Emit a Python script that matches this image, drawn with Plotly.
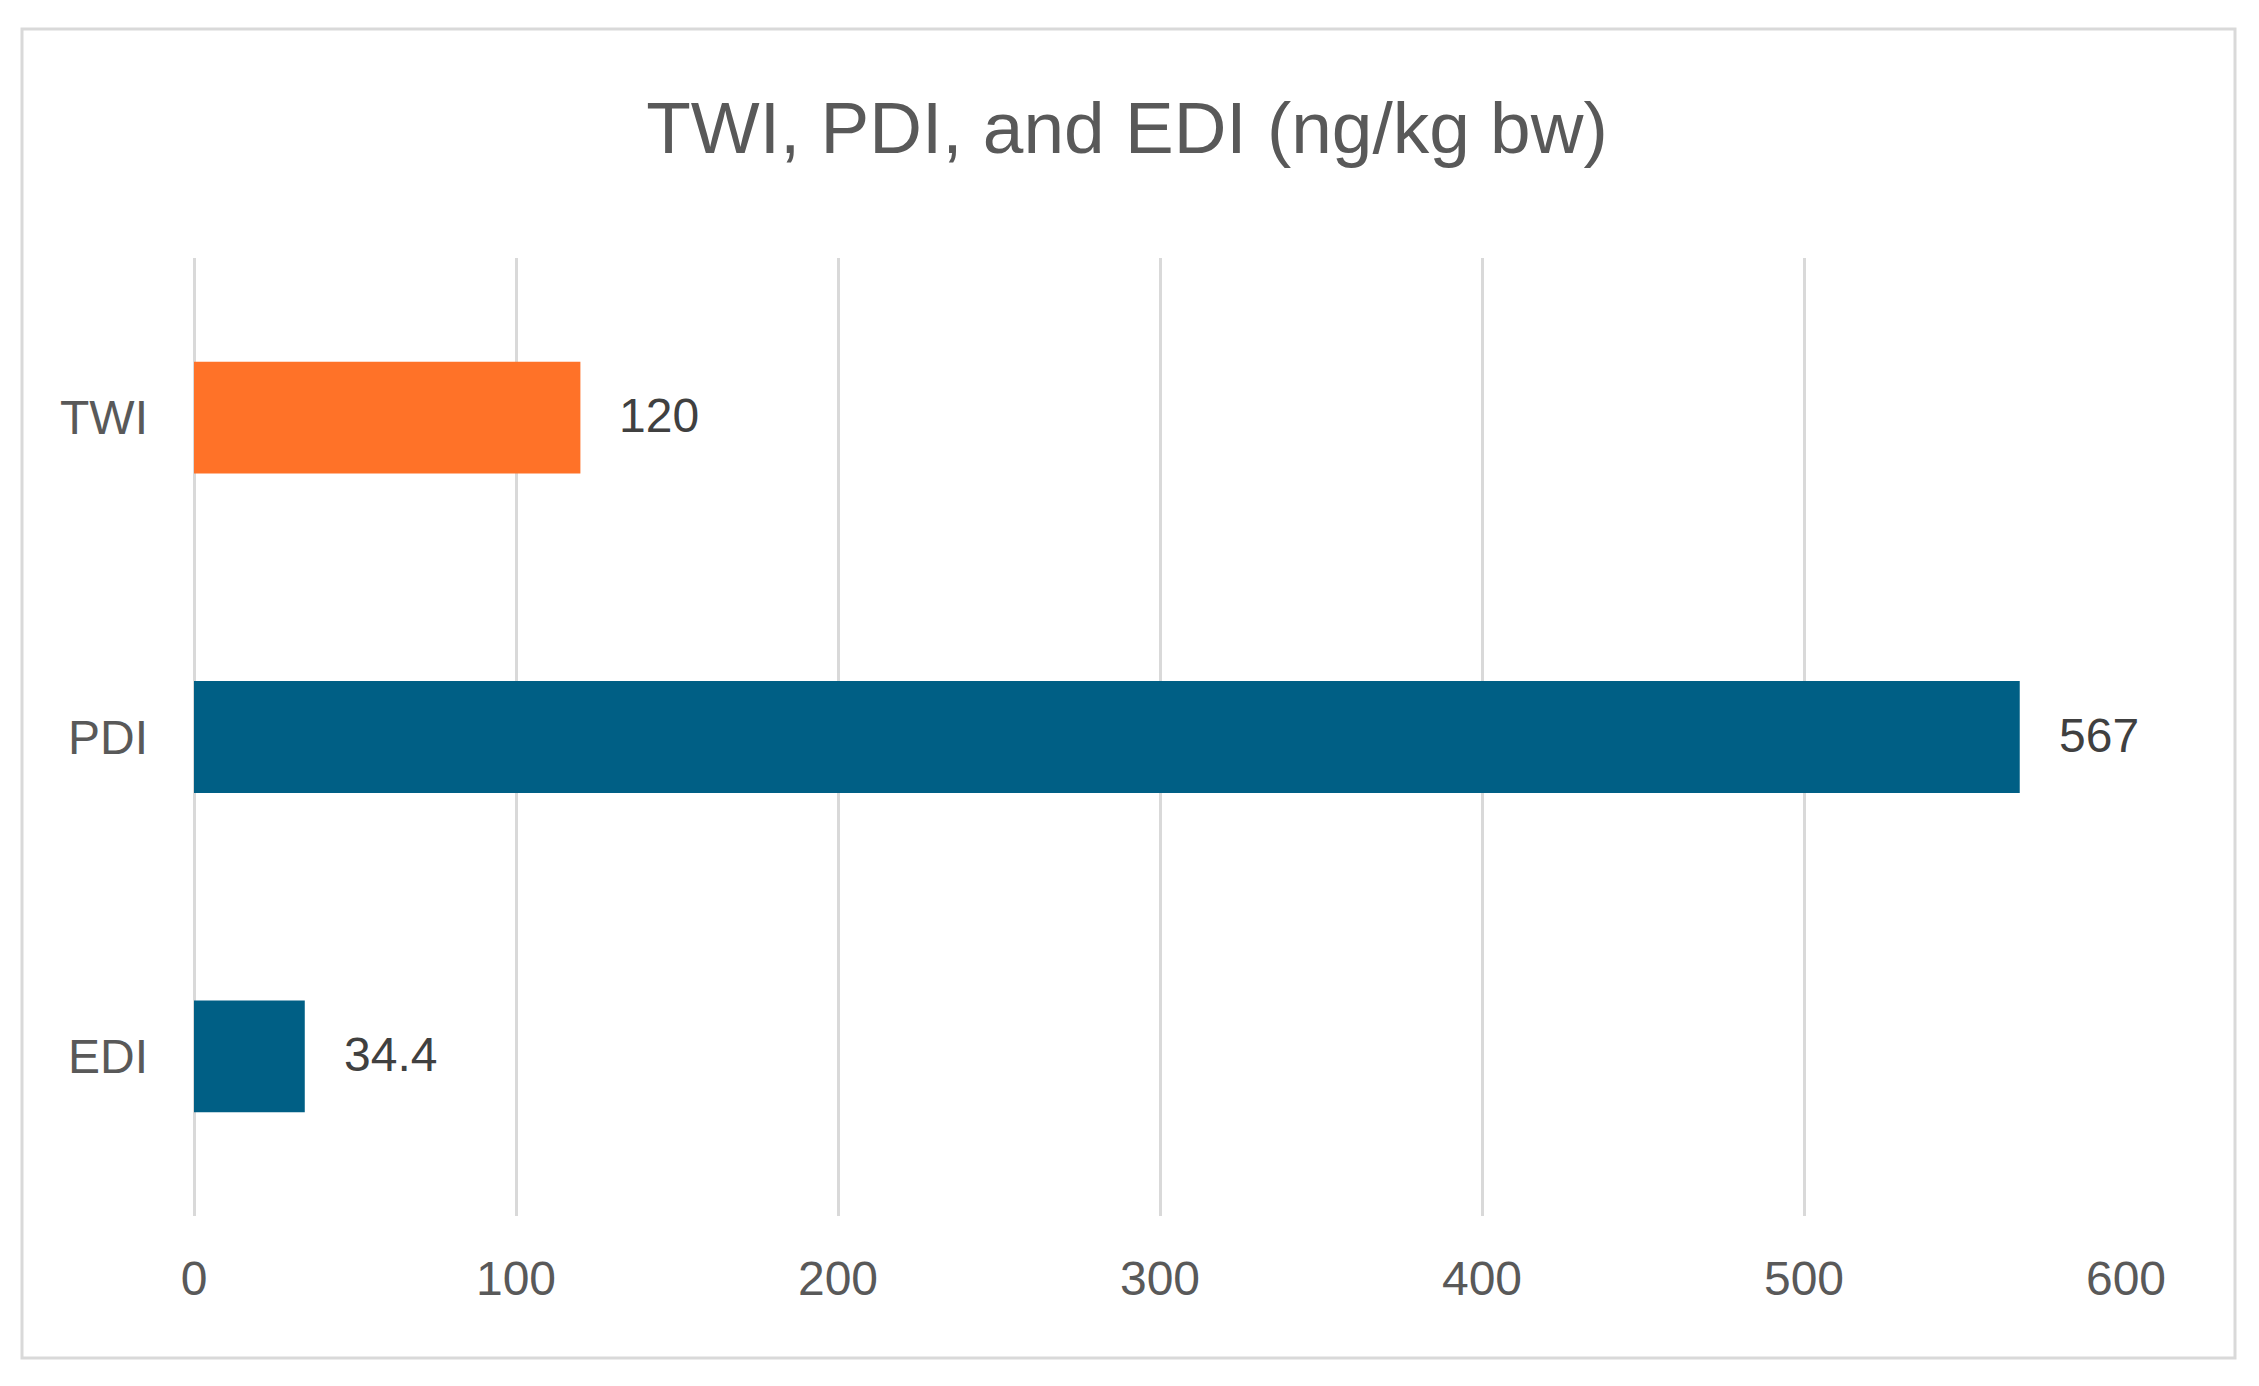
import plotly.graph_objects as go

categories = ["TWI", "PDI", "EDI"]
values = [120, 567, 34.4]
bar_colors = ["#FF7228", "#005F85", "#005F85"]
x_ticks = [0, 100, 200, 300, 400, 500, 600]
title_text = "TWI, PDI, and EDI (ng/kg bw)"

OFF = 8  # default page body margin
W, H = 2259 - OFF, 1386 - OFF
L, R, T, B = 186, 133, 250, 170
pw, ph = W - L - R, H - T - B

FONT = "Liberation Sans, Arial, sans-serif"

fig = go.Figure()
fig.add_trace(go.Bar(
    x=values, y=categories, orientation="h",
    marker=dict(color=bar_colors, line=dict(width=0)),
    width=0.35, showlegend=False, hoverinfo="x+y",
))

for c, v in zip(categories, values):
    fig.add_annotation(
        x=v, y=c, xref="x", yref="y", text=f"{v:g}", showarrow=False,
        xanchor="left", yanchor="middle", xshift=37, yshift=2,
        font=dict(family=FONT, size=48, color="#404040"),
    )

# outer chart border (page coords minus body offset)
bx0, bx1, by0, by1 = 22 - OFF, 2235 - OFF, 29 - OFF, 1358 - OFF
fig.add_shape(
    type="rect", xref="paper", yref="paper",
    x0=(bx0 - L) / pw, x1=(bx1 - L) / pw,
    y0=(H - B - by1) / ph, y1=(H - B - by0) / ph,
    line=dict(color="#D9D9D9", width=3), fillcolor="rgba(0,0,0,0)", layer="below",
)

fig.update_layout(
    width=W, height=H,
    margin=dict(l=L, r=R, t=T, b=B, pad=0),
    paper_bgcolor="white", plot_bgcolor="white",
    font=dict(family=FONT, color="#595959"),
    title=dict(
        text=title_text, x=(1127 - OFF) / W, xanchor="center", xref="container",
        y=1 - 119 / H, yanchor="middle", yref="container",
        font=dict(size=73, color="#595959", family=FONT),
    ),
    xaxis=dict(
        range=[0, 600], tickvals=x_ticks, ticktext=[str(t) for t in x_ticks],
        showgrid=True, gridcolor="#D9D9D9", gridwidth=3,
        zeroline=True, zerolinecolor="#D9D9D9", zerolinewidth=3,
        showline=False, ticks="", tickfont=dict(size=48, color="#595959"),
        ticklabelstandoff=30, fixedrange=True,
    ),
    yaxis=dict(
        categoryorder="array", categoryarray=categories, autorange="reversed",
        showgrid=False, zeroline=False, showline=False, ticks="",
        tickfont=dict(size=48, color="#595959"), ticklabelstandoff=45,
        fixedrange=True,
    ),
    bargap=0.65,
)

fig.write_html("out.html")
